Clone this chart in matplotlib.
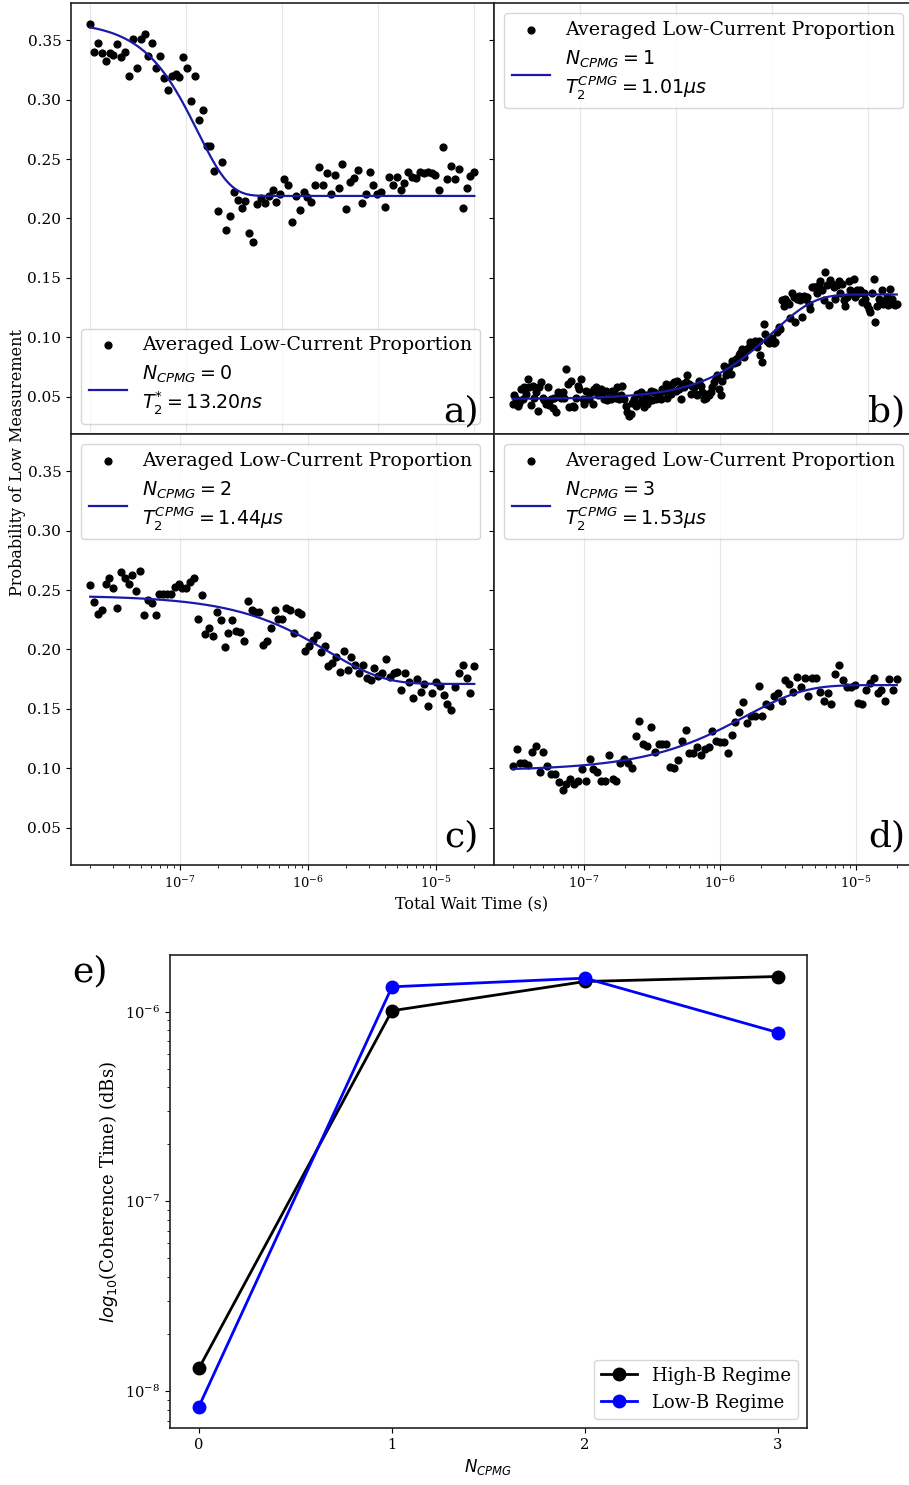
import matplotlib
matplotlib.use("Agg")
import matplotlib.pyplot as plt
import numpy as np

plt.rcParams["font.family"] = ["DejaVu Serif"]
plt.rcParams["mathtext.fontset"] = "dejavusans"

# --- datos de los barridos (proporción promedio de corriente baja) ---
# tiempos: barrido logarítmico, inicio / fin de cada panel (s)
t_a = (1e-9, 1e-5)
t_b = (2e-9, 2e-5)
t_c = (2e-8, 2e-5)
t_d = (3e-8, 2e-5)

p_a = [0.364, 0.340, 0.348, 0.339, 0.333, 0.339, 0.338, 0.347, 0.336, 0.340,
       0.320, 0.351, 0.327, 0.351, 0.355, 0.337, 0.348, 0.327, 0.337, 0.318,
       0.308, 0.320, 0.322, 0.319, 0.336, 0.327, 0.299, 0.320, 0.283, 0.291,
       0.261, 0.261, 0.240, 0.206, 0.248, 0.190, 0.202, 0.222, 0.216, 0.209,
       0.215, 0.188, 0.180, 0.212, 0.217, 0.213, 0.219, 0.224, 0.214, 0.221,
       0.233, 0.228, 0.197, 0.219, 0.207, 0.222, 0.218, 0.214, 0.228, 0.243,
       0.228, 0.238, 0.221, 0.237, 0.226, 0.246, 0.208, 0.231, 0.234, 0.241,
       0.213, 0.221, 0.239, 0.228, 0.221, 0.222, 0.210, 0.235, 0.228, 0.235,
       0.224, 0.230, 0.239, 0.235, 0.234, 0.239, 0.238, 0.239, 0.238, 0.237,
       0.224, 0.260, 0.233, 0.244, 0.233, 0.242, 0.209, 0.226, 0.236, 0.239]

p_b = [0.044, 0.051, 0.048, 0.042, 0.045, 0.056, 0.048, 0.058, 0.052, 0.065,
       0.058, 0.043, 0.059, 0.049, 0.054, 0.038, 0.058, 0.062, 0.049, 0.047,
       0.044, 0.058, 0.043, 0.048, 0.040, 0.049, 0.037, 0.054, 0.052, 0.049,
       0.054, 0.049, 0.073, 0.061, 0.041, 0.063, 0.042, 0.041, 0.049, 0.059,
       0.056, 0.065, 0.048, 0.044, 0.055, 0.049, 0.048, 0.054, 0.044, 0.056,
       0.058, 0.051, 0.055, 0.056, 0.052, 0.048, 0.055, 0.047, 0.049, 0.048,
       0.055, 0.054, 0.049, 0.058, 0.048, 0.051, 0.059, 0.048, 0.042, 0.037,
       0.034, 0.035, 0.045, 0.048, 0.042, 0.052, 0.045, 0.054, 0.047, 0.041,
       0.051, 0.044, 0.048, 0.055, 0.047, 0.054, 0.048, 0.049, 0.052, 0.048,
       0.056, 0.055, 0.061, 0.049, 0.058, 0.052, 0.061, 0.062, 0.055, 0.063,
       0.056, 0.048, 0.061, 0.058, 0.062, 0.068, 0.061, 0.052, 0.059, 0.058,
       0.052, 0.051, 0.063, 0.059, 0.054, 0.048, 0.049, 0.052, 0.051, 0.054,
       0.058, 0.062, 0.066, 0.068, 0.056, 0.051, 0.063, 0.076, 0.068, 0.071,
       0.075, 0.069, 0.080, 0.078, 0.082, 0.079, 0.085, 0.087, 0.090, 0.083,
       0.089, 0.090, 0.092, 0.096, 0.093, 0.095, 0.097, 0.092, 0.097, 0.085,
       0.079, 0.111, 0.103, 0.097, 0.095, 0.097, 0.099, 0.095, 0.096, 0.104,
       0.109, 0.107, 0.131, 0.126, 0.132, 0.130, 0.128, 0.116, 0.137, 0.134,
       0.113, 0.132, 0.135, 0.131, 0.117, 0.135, 0.132, 0.134, 0.128, 0.124,
       0.142, 0.142, 0.142, 0.137, 0.144, 0.147, 0.140, 0.131, 0.155, 0.144,
       0.127, 0.148, 0.145, 0.142, 0.132, 0.144, 0.147, 0.137, 0.145, 0.131,
       0.126, 0.134, 0.147, 0.140, 0.137, 0.149, 0.134, 0.140, 0.137, 0.140,
       0.130, 0.137, 0.132, 0.127, 0.124, 0.121, 0.137, 0.149, 0.113, 0.126,
       0.132, 0.131, 0.140, 0.128, 0.130, 0.134, 0.127, 0.141, 0.132, 0.128,
       0.127, 0.128]

p_c = [0.254, 0.240, 0.230, 0.233, 0.255, 0.260, 0.252, 0.235, 0.265, 0.260,
       0.255, 0.263, 0.249, 0.266, 0.229, 0.242, 0.239, 0.229, 0.247, 0.247,
       0.247, 0.247, 0.253, 0.255, 0.252, 0.252, 0.257, 0.260, 0.226, 0.246,
       0.213, 0.218, 0.211, 0.232, 0.225, 0.202, 0.214, 0.225, 0.216, 0.215,
       0.207, 0.241, 0.233, 0.232, 0.232, 0.204, 0.207, 0.218, 0.233, 0.226,
       0.226, 0.235, 0.233, 0.214, 0.232, 0.230, 0.199, 0.203, 0.208, 0.212,
       0.198, 0.203, 0.186, 0.189, 0.194, 0.181, 0.199, 0.183, 0.194, 0.187,
       0.180, 0.187, 0.176, 0.174, 0.184, 0.178, 0.180, 0.192, 0.177, 0.180,
       0.181, 0.166, 0.180, 0.173, 0.159, 0.175, 0.164, 0.171, 0.152, 0.163,
       0.173, 0.169, 0.162, 0.154, 0.149, 0.168, 0.180, 0.187, 0.176, 0.163,
       0.186]

p_d = [0.102, 0.116, 0.104, 0.104, 0.103, 0.114, 0.119, 0.097, 0.114, 0.102,
       0.095, 0.095, 0.088, 0.082, 0.087, 0.091, 0.087, 0.089, 0.099, 0.089,
       0.108, 0.099, 0.097, 0.089, 0.089, 0.111, 0.091, 0.089, 0.104, 0.108,
       0.104, 0.100, 0.127, 0.140, 0.120, 0.119, 0.135, 0.114, 0.120, 0.120,
       0.120, 0.101, 0.100, 0.107, 0.123, 0.132, 0.113, 0.113, 0.118, 0.111,
       0.116, 0.118, 0.131, 0.123, 0.122, 0.122, 0.113, 0.128, 0.139, 0.147,
       0.156, 0.138, 0.144, 0.144, 0.169, 0.144, 0.154, 0.152, 0.161, 0.163,
       0.157, 0.174, 0.171, 0.164, 0.177, 0.168, 0.176, 0.161, 0.176, 0.176,
       0.164, 0.157, 0.163, 0.154, 0.179, 0.187, 0.174, 0.168, 0.168, 0.170,
       0.155, 0.154, 0.166, 0.172, 0.176, 0.163, 0.166, 0.157, 0.175, 0.166,
       0.175]

# parámetros de los ajustes: inicio, final, T2 (s), exponente
fit_a = (0.366, 0.219, 13.20e-9, 1.3)
fit_b = (0.048, 0.136, 1.01e-6, 1)
fit_c = (0.2455, 0.171, 1.44e-6, 1)
fit_d = (0.098, 0.170, 1.53e-6, 1)

etiquetas = [
    r"$N_{CPMG} = 0$" + "\n" + r"$T_2^{*} = 13.20ns$",
    r"$N_{CPMG} = 1$" + "\n" + r"$T_2^{CPMG} = 1.01\mu s$",
    r"$N_{CPMG} = 2$" + "\n" + r"$T_2^{CPMG} = 1.44\mu s$",
    r"$N_{CPMG} = 3$" + "\n" + r"$T_2^{CPMG} = 1.53\mu s$",
]
letras = ["a)", "b)", "c)", "d)"]

# --- tiempos de coherencia (panel e) ---
n_cpmg = [0, 1, 2, 3]
t2_alto_b = [1.32e-8, 1.01e-6, 1.44e-6, 1.53e-6]
t2_bajo_b = [8.3e-9, 1.35e-6, 1.50e-6, 7.75e-7]


def curva_ajuste(t, inicio, final, t2, n):
    return final + (inicio - final) * np.exp(-(t / t2) ** n)


fig = plt.figure(figsize=(9.09, 14.85), dpi=100)
gs = fig.add_gridspec(2, 2, left=71 / 909, right=916 / 909,
                      top=1 - 3 / 1485, bottom=1 - 865 / 1485,
                      hspace=0, wspace=0)
ax_a = fig.add_subplot(gs[0, 0])
ax_b = fig.add_subplot(gs[0, 1], sharey=ax_a)
ax_c = fig.add_subplot(gs[1, 0], sharey=ax_a)
ax_d = fig.add_subplot(gs[1, 1], sharey=ax_a)
paneles = [ax_a, ax_b, ax_c, ax_d]

rangos = [t_a, t_b, t_c, t_d]
datos = [p_a, p_b, p_c, p_d]
ajustes = [fit_a, fit_b, fit_c, fit_d]
locs = ["lower left", "upper left", "upper left", "upper left"]
pos_letra = [(0.965, 0.012), (0.975, 0.012), (0.965, 0.026), (0.975, 0.026)]

for i, ax in enumerate(paneles):
    t = np.geomspace(rangos[i][0], rangos[i][1], len(datos[i]))
    ax.scatter(t, datos[i], s=24, color="black",
               label="Averaged Low-Current Proportion")
    t_fino = np.geomspace(rangos[i][0], rangos[i][1], 400)
    ax.plot(t_fino, curva_ajuste(t_fino, *ajustes[i]), color="#1a1aa8",
            lw=1.6, label=etiquetas[i])
    ax.set_xscale("log")
    ax.set_axisbelow(True)
    ax.grid(True, axis="x", which="major", color="#e6e6e6", lw=0.8)
    ax.legend(loc=locs[i], fontsize=13.7, borderaxespad=0.55)
    ax.text(*pos_letra[i], letras[i], transform=ax.transAxes, ha="right",
            va="bottom", fontsize=26, zorder=6)
    ax.tick_params(axis="y", labelsize=11)
    ax.tick_params(axis="x", which="both", labelsize=9.5)
    for sp in ax.spines.values():
        sp.set_linewidth(1.2)
        sp.set_color("#222222")

ax_a.set_ylim(0.0185, 0.3815)
for ax in (ax_a, ax_b):
    ax.tick_params(axis="x", which="both", bottom=False, labelbottom=False)
for ax in (ax_b, ax_d):
    ax.tick_params(axis="y", labelleft=False)

fig.text(18 / 909, 1 - 462 / 1485, "Probability of Low Measurement",
         rotation=90, ha="center", va="center", fontsize=11.5)
fig.text(472 / 909, 1 - 904 / 1485, "Total Wait Time (s)",
         ha="center", va="center", fontsize=11.5)

# --- panel e ---
ax_e = fig.add_axes([170 / 909, 1 - 1428 / 1485, 637 / 909, 473 / 1485])
ax_e.plot(n_cpmg, t2_alto_b, "-o", color="black", lw=2, ms=9,
          label="High-B Regime")
ax_e.plot(n_cpmg, t2_bajo_b, "-o", color="blue", lw=2, ms=9,
          label="Low-B Regime")
ax_e.set_yscale("log")
ax_e.set_xticks(n_cpmg)
ax_e.set_xlabel(r"$N_{CPMG}$", fontsize=12)
ax_e.set_ylabel(r"$log_{10}$(Coherence Time) (dBs)", fontsize=13)
ax_e.tick_params(labelsize=10.5)
ax_e.legend(loc="lower right", fontsize=13)
for sp in ax_e.spines.values():
    sp.set_linewidth(1.2)
    sp.set_color("#222222")
fig.text(90 / 909, 1 - 971 / 1485, "e)", ha="center", va="center", fontsize=26)

fig.savefig("out.png", dpi=100)
